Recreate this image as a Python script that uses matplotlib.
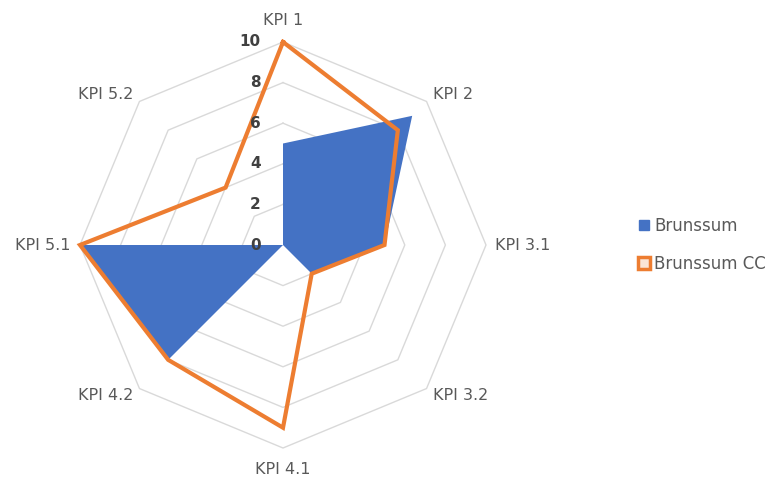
import numpy as np
import matplotlib
matplotlib.use("Agg")
import matplotlib.pyplot as plt
from matplotlib.lines import Line2D

plt.rcParams["font.family"] = ["DejaVu Sans"]

# data
categories = ["KPI 1", "KPI 2", "KPI 3.1", "KPI 3.2", "KPI 4.1", "KPI 4.2", "KPI 5.1", "KPI 5.2"]
brunssum = [5, 9, 5, 2, 0, 8, 10, 0]
brunssum_cc = [10, 8, 5, 2, 9, 8, 10, 4]
ring_ticks = [0, 2, 4, 6, 8, 10]

BLUE = "#4472C4"
ORANGE = "#ED7D31"
GRID = "#D9D9D9"
LABEL = "#595959"

n = len(categories)
angles = np.arange(n) * 2 * np.pi / n  # clockwise from top


def to_xy(values):
    v = np.asarray(values, dtype=float)
    x = v * np.sin(angles)
    y = v * np.cos(angles)
    return np.append(x, x[0]), np.append(y, y[0])


fig = plt.figure(figsize=(7.7, 4.86), dpi=100)
ax = fig.add_axes([0, 0, 1, 1])
scale = 20.3  # pixels per unit
cx, cy = 283, 245
ax.set_xlim(-cx / scale, (770 - cx) / scale)
ax.set_ylim(-(486 - cy) / scale, cy / scale)
ax.axis("off")

# octagon rings
for r in ring_ticks[1:]:
    gx, gy = to_xy([r] * n)
    ax.plot(gx, gy, color=GRID, lw=1.0, zorder=1)

# series
bx, by = to_xy(brunssum)
ax.fill(bx, by, color=BLUE, lw=0, zorder=2)
ox, oy = to_xy(brunssum_cc)
ax.plot(ox, oy, color=ORANGE, lw=3.0, solid_joinstyle="miter", zorder=3)

# radial tick labels along KPI 1 axis
for r in ring_ticks:
    ax.text(-1.1, r, str(r), ha="right", va="center", fontsize=11,
            fontweight="bold", color="#404040", zorder=4)

# category labels
for cat, a in zip(categories, angles):
    s, c = np.sin(a), np.cos(a)
    if abs(s) < 1e-6:
        r = 10.7
        ha = "center"
        va = "bottom" if c > 0 else "top"
    else:
        r = 10.45
        ha = "left" if s > 0 else "right"
        va = "center"
    ax.text(r * s, r * c, cat, ha=ha, va=va, fontsize=11.5, color=LABEL)

handles = [
    Line2D([], [], ls="none", marker="s", markersize=6.5, markerfacecolor=BLUE,
           markeredgecolor=BLUE),
    Line2D([], [], ls="none", marker="s", markersize=8.5, markerfacecolor="#FBE5D6",
           markeredgecolor=ORANGE, markeredgewidth=2.5),
]
leg = fig.legend(handles, ["Brunssum", "Brunssum CC"], loc="center left",
                 bbox_to_anchor=(622 / 770, 1 - 245 / 486), frameon=False,
                 fontsize=12, labelspacing=1.2, handlelength=0.8,
                 handletextpad=0.25, labelcolor=LABEL)

fig.savefig("out.png", dpi=100, facecolor="white")
